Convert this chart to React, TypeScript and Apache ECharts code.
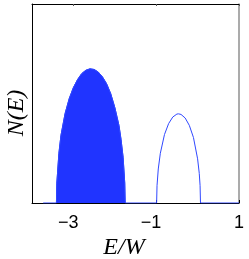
import React, { useEffect, useRef } from "react";
import * as echarts from "echarts";

// Filled band (lower band)
const energy1 = [-3.41, -3.4, -3.35, -3.3, -3.2, -3.1, -3.0, -2.9, -2.8, -2.7, -2.6, -2.5, -2.4, -2.3, -2.2, -2.1, -2.0, -1.9, -1.85, -1.8, -1.76, -1.75];
const dos1 = [0, 0.1, 0.25, 0.34, 0.45, 0.525, 0.58, 0.62, 0.65, 0.667, 0.674, 0.671, 0.658, 0.634, 0.6, 0.55, 0.48, 0.39, 0.32, 0.23, 0.1, 0];
// Outlined band (upper band)
const energy2 = [-0.99, -0.98, -0.95, -0.9, -0.8, -0.7, -0.6, -0.5, -0.46, -0.4, -0.3, -0.2, -0.1, 0.0, 0.04, 0.06, 0.07];
const dos2 = [0, 0.087, 0.171, 0.25, 0.344, 0.399, 0.432, 0.447, 0.448, 0.445, 0.427, 0.39, 0.329, 0.222, 0.149, 0.087, 0];
// Curve extent
const curveStart = -3.73;
const curveEnd = 1;
// Axis
const xMin = -4;
const xMax = 1;
const xTicks = [-3, -1, 1];

const BLUE = "#2034ff";

export default function App() {
  const ref = useRef<HTMLDivElement>(null);
  useEffect(() => {
    if (!ref.current) return;
    const chart = echarts.init(ref.current, null, { renderer: "svg" });
    const band1 = energy1.map((e, i) => [e, dos1[i]]);
    const band2 = energy2.map((e, i) => [e, dos2[i]]);
    const curve = [[curveStart, 0], ...band1, ...band2, [curveEnd, 0]];
    chart.setOption({
      animation: false,
      grid: { left: 32, right: 10, top: 4, bottom: 56, show: false },
      xAxis: [
        {
          type: "value",
          position: "bottom",
          min: xMin,
          max: xMax,
          splitLine: { show: false },
          axisLine: { onZero: false, lineStyle: { color: "#000", width: 1 } },
          axisTick: { inside: true, length: 3, customValues: xTicks, lineStyle: { color: "#000" } },
          axisLabel: {
            customValues: xTicks,
            showMaxLabel: true,
            showMinLabel: true,
            margin: 10,
            formatter: (v: number) =>
              v < 0 ? `{m|\u2212}{d|${Math.abs(v)}}{h|\u2212}` : `{d|${v}}`,
            rich: {
              m: { fontFamily: "Liberation Sans", fontSize: 18, color: "#000" },
              d: { fontFamily: "Liberation Sans", fontSize: 18, color: "#000" },
              h: { fontFamily: "Liberation Sans", fontSize: 18, color: "transparent" },
            },
          },
        },
        {
          type: "value",
          position: "top",
          min: xMin,
          max: xMax,
          splitLine: { show: false },
          axisLine: { onZero: false, lineStyle: { color: "#000", width: 1 } },
          axisTick: { inside: true, length: 2, customValues: xTicks, lineStyle: { color: "#555" } },
          axisLabel: { show: false },
        },
      ],
      yAxis: [
        {
          type: "value",
          position: "left",
          min: 0,
          max: 1,
          splitLine: { show: false },
          axisLine: { show: true, onZero: false, lineStyle: { color: "#000", width: 1 } },
          axisTick: { show: false },
          axisLabel: { show: false },
        },
        {
          type: "value",
          position: "right",
          min: 0,
          max: 1,
          splitLine: { show: false },
          axisLine: { show: true, onZero: false, lineStyle: { color: "#8f8f8f", width: 1.5 } },
          axisTick: { show: false },
          axisLabel: { show: false },
        },
      ],
      series: [
        {
          type: "line",
          data: band1,
          xAxisIndex: 0,
          yAxisIndex: 0,
          symbol: "none",
          lineStyle: { color: BLUE, width: 1 },
          areaStyle: { color: BLUE, opacity: 1 },
          z: 3,
        },
        {
          type: "line",
          data: curve,
          xAxisIndex: 0,
          yAxisIndex: 0,
          symbol: "none",
          lineStyle: { color: "#3048ff", width: 1 },
          z: 4,
        },
      ],
      graphic: [
        {
          type: "text",
          x: 124,
          y: 246,
          style: {
            text: "E/W",
            font: "italic 24px 'Liberation Serif'",
            fill: "#000",
            textAlign: "center",
            textVerticalAlign: "middle",
          },
        },
        {
          type: "text",
          x: 15,
          y: 113,
          rotation: Math.PI / 2,
          style: {
            text: "N(E)",
            font: "italic 24px 'Liberation Serif'",
            fill: "#000",
            textAlign: "center",
            textVerticalAlign: "middle",
          },
        },
      ],
    });
    return () => chart.dispose();
  }, []);
  return (
    <div
      ref={ref}
      style={{ position: "fixed", left: 0, top: 0, width: 249, height: 259 }}
    />
  );
}
